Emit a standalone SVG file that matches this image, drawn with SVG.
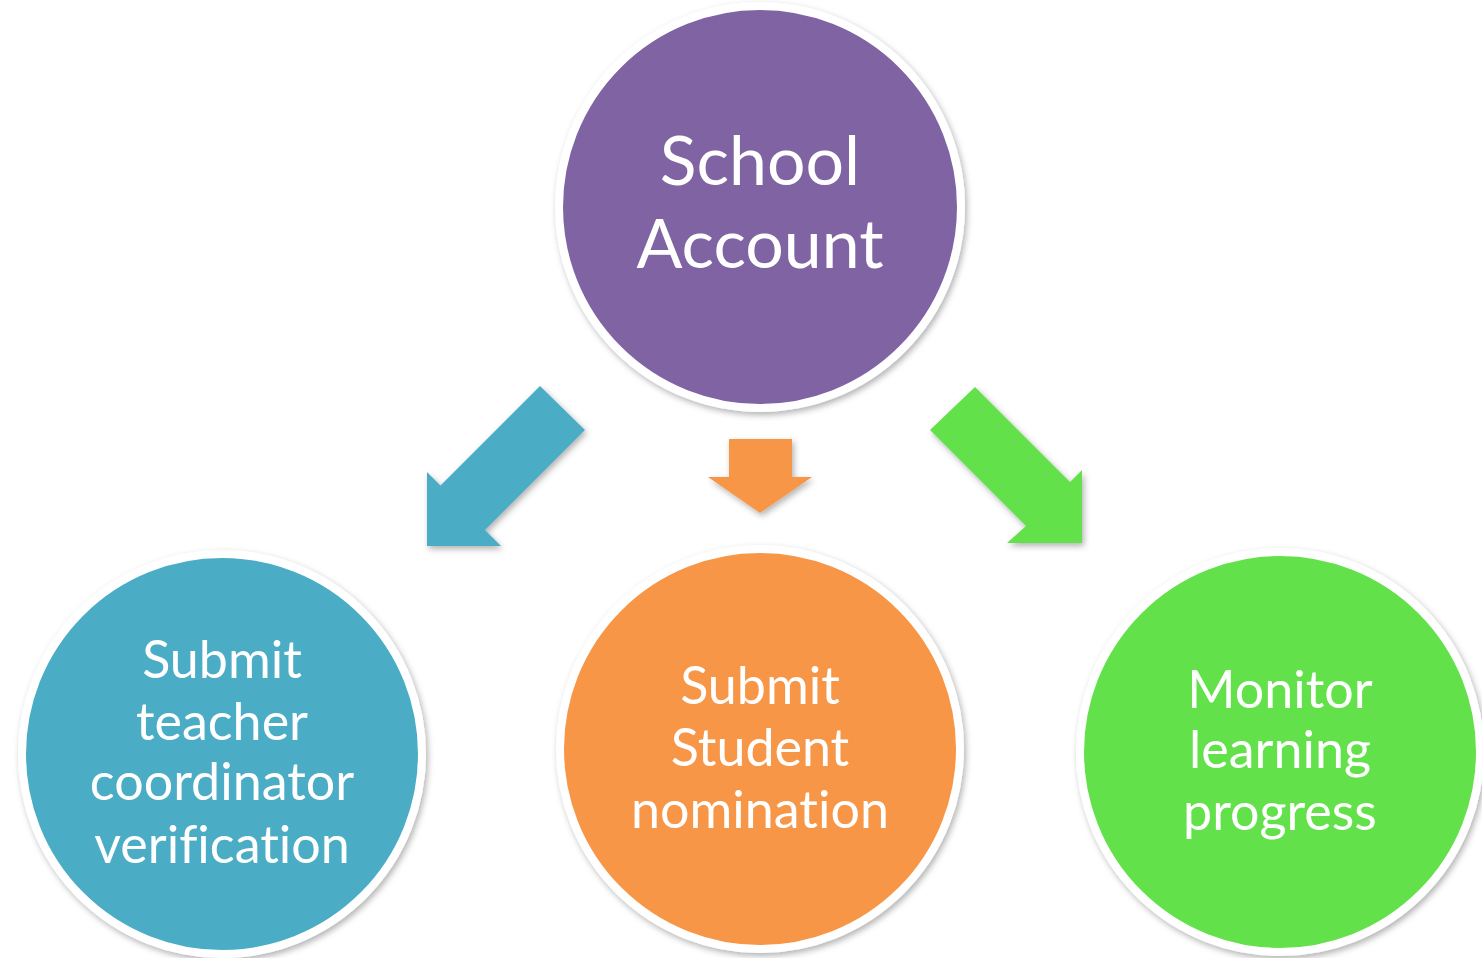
<svg xmlns="http://www.w3.org/2000/svg" width="1482" height="958" viewBox="0 0 1482 958">
<defs>
<filter id="sh" x="-10%" y="-10%" width="125%" height="125%">
<feDropShadow dx="2" dy="3" stdDeviation="3" flood-color="#000" flood-opacity="0.3"/>
</filter>
<style>
.ring{stroke:#fff;stroke-width:8;filter:url(#sh)}
.lbl{font-family:Lato,"Open Sans",sans-serif;fill:#fff;text-anchor:middle;font-variant-ligatures:none;font-feature-settings:"liga" 0,"clig" 0}
.big{font-size:68px}
.sm{font-size:52px}
.arr{filter:url(#sh)}
</style>
</defs>
<rect width="1482" height="958" fill="#fff"/>
<g id="connectors">
<polygon class="arr" fill="#4BACC6" points="540,386 585,430 485,530 501,546 427,546 427,472 440.5,485.5"/>
<polygon class="arr" fill="#F79646" points="729,439 792,439 792,477 812,477 760,513 708,477 729,477"/>
<polygon class="arr" fill="#63E14B" points="975,387 930,430 1026,526 1007,543 1082,543 1082,470 1070,482"/>
</g>
<g id="school-account">
<circle class="ring" cx="760" cy="207" r="201" fill="#8064A2"/>
<text class="lbl big" x="760" y="185">School</text>
<text class="lbl big" x="760" y="268">Account</text>
</g>
<g id="teacher-verification">
<circle class="ring" cx="222" cy="754" r="200" fill="#4BACC6"/>
<text class="lbl sm" x="222" y="678">Submit</text>
<text class="lbl sm" x="222" y="740">teacher</text>
<text class="lbl sm" x="222" y="800">coordinator</text>
<text class="lbl sm" x="222" y="863">verification</text>
</g>
<g id="student-nomination">
<circle class="ring" cx="760" cy="749" r="200" fill="#F79646"/>
<text class="lbl sm" x="760" y="704">Submit</text>
<text class="lbl sm" x="760" y="766">Student</text>
<text class="lbl sm" x="760" y="828">nomination</text>
</g>
<g id="monitor-progress">
<circle class="ring" cx="1280" cy="752" r="200" fill="#63E14B"/>
<text class="lbl sm" x="1280" y="708">Monitor</text>
<text class="lbl sm" x="1280" y="768">learning</text>
<text class="lbl sm" x="1280" y="830">progress</text>
</g>
</svg>
